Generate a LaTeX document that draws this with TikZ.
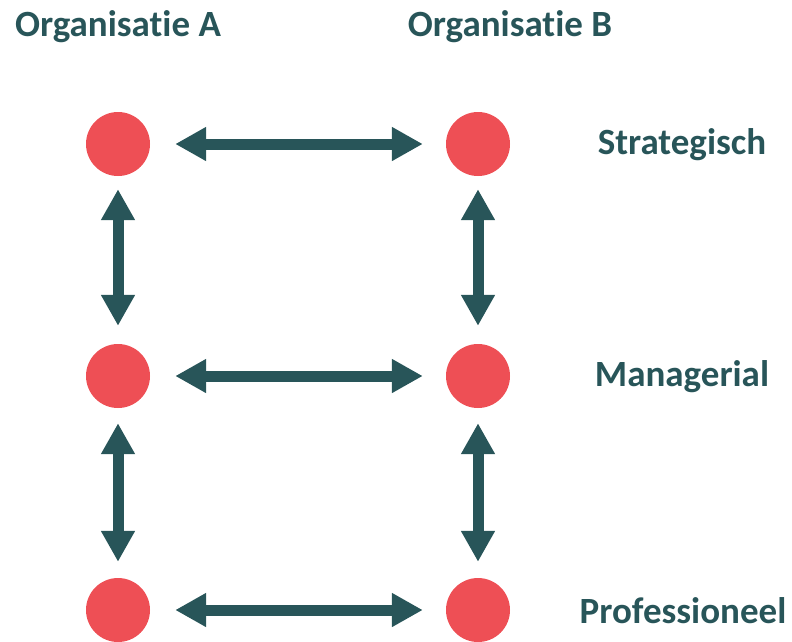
\documentclass[tikz,border=0pt]{standalone}
\usepackage{fontspec}
\setmainfont{Carlito}[Ligatures=NoCommon]
\usetikzlibrary{arrows.meta}

\definecolor{dotred}{HTML}{EE4F55}
\definecolor{teal}{HTML}{285559}

\tikzset{
  dot/.style={circle,fill=dotred,minimum size=64pt,inner sep=0pt},
  link/.style={teal,line width=11pt,
    {Triangle[length=31pt,width=32pt]}-{Triangle[length=31pt,width=32pt]}},
  lbl/.style={text=teal,font=\bfseries\fontsize{37}{40}\selectfont}
}

\begin{document}
\begin{tikzpicture}[x=1pt,y=-1pt]
        \useasboundingbox (0,0) rectangle (792,641);
        \node[dot] (A1) at (118,144) {};
        \node[dot] (A2) at (118,376) {};
        \node[dot] (A3) at (118,610) {};
        \node[dot] (B1) at (478,144) {};
        \node[dot] (B2) at (478,376) {};
        \node[dot] (B3) at (478,610) {};
        \node[lbl] (orgA) at (118,27) {Organisatie A};
        \node[lbl] (orgB) at (510,27) {Organisatie B};
        \node[lbl] (strat) at (682,145) {Strategisch};
        \node[lbl] (man) at (682,377) {Managerial};
        \node[lbl] (prof) at (683,611) {Professioneel};
        \draw[link,shorten <=25pt,shorten >=23pt] (A1) -- (B1);
        \draw[link,shorten <=25pt,shorten >=23pt] (A2) -- (B2);
        \draw[link,shorten <=25pt,shorten >=23pt] (A3) -- (B3);
        \draw[link,shorten <=13pt,shorten >=18pt] (A1) -- (A2);
        \draw[link,shorten <=15pt,shorten >=16pt] (A2) -- (A3);
        \draw[link,shorten <=13pt,shorten >=18pt] (B1) -- (B2);
        \draw[link,shorten <=15pt,shorten >=16pt] (B2) -- (B3);
    \end{tikzpicture}
\end{document}
